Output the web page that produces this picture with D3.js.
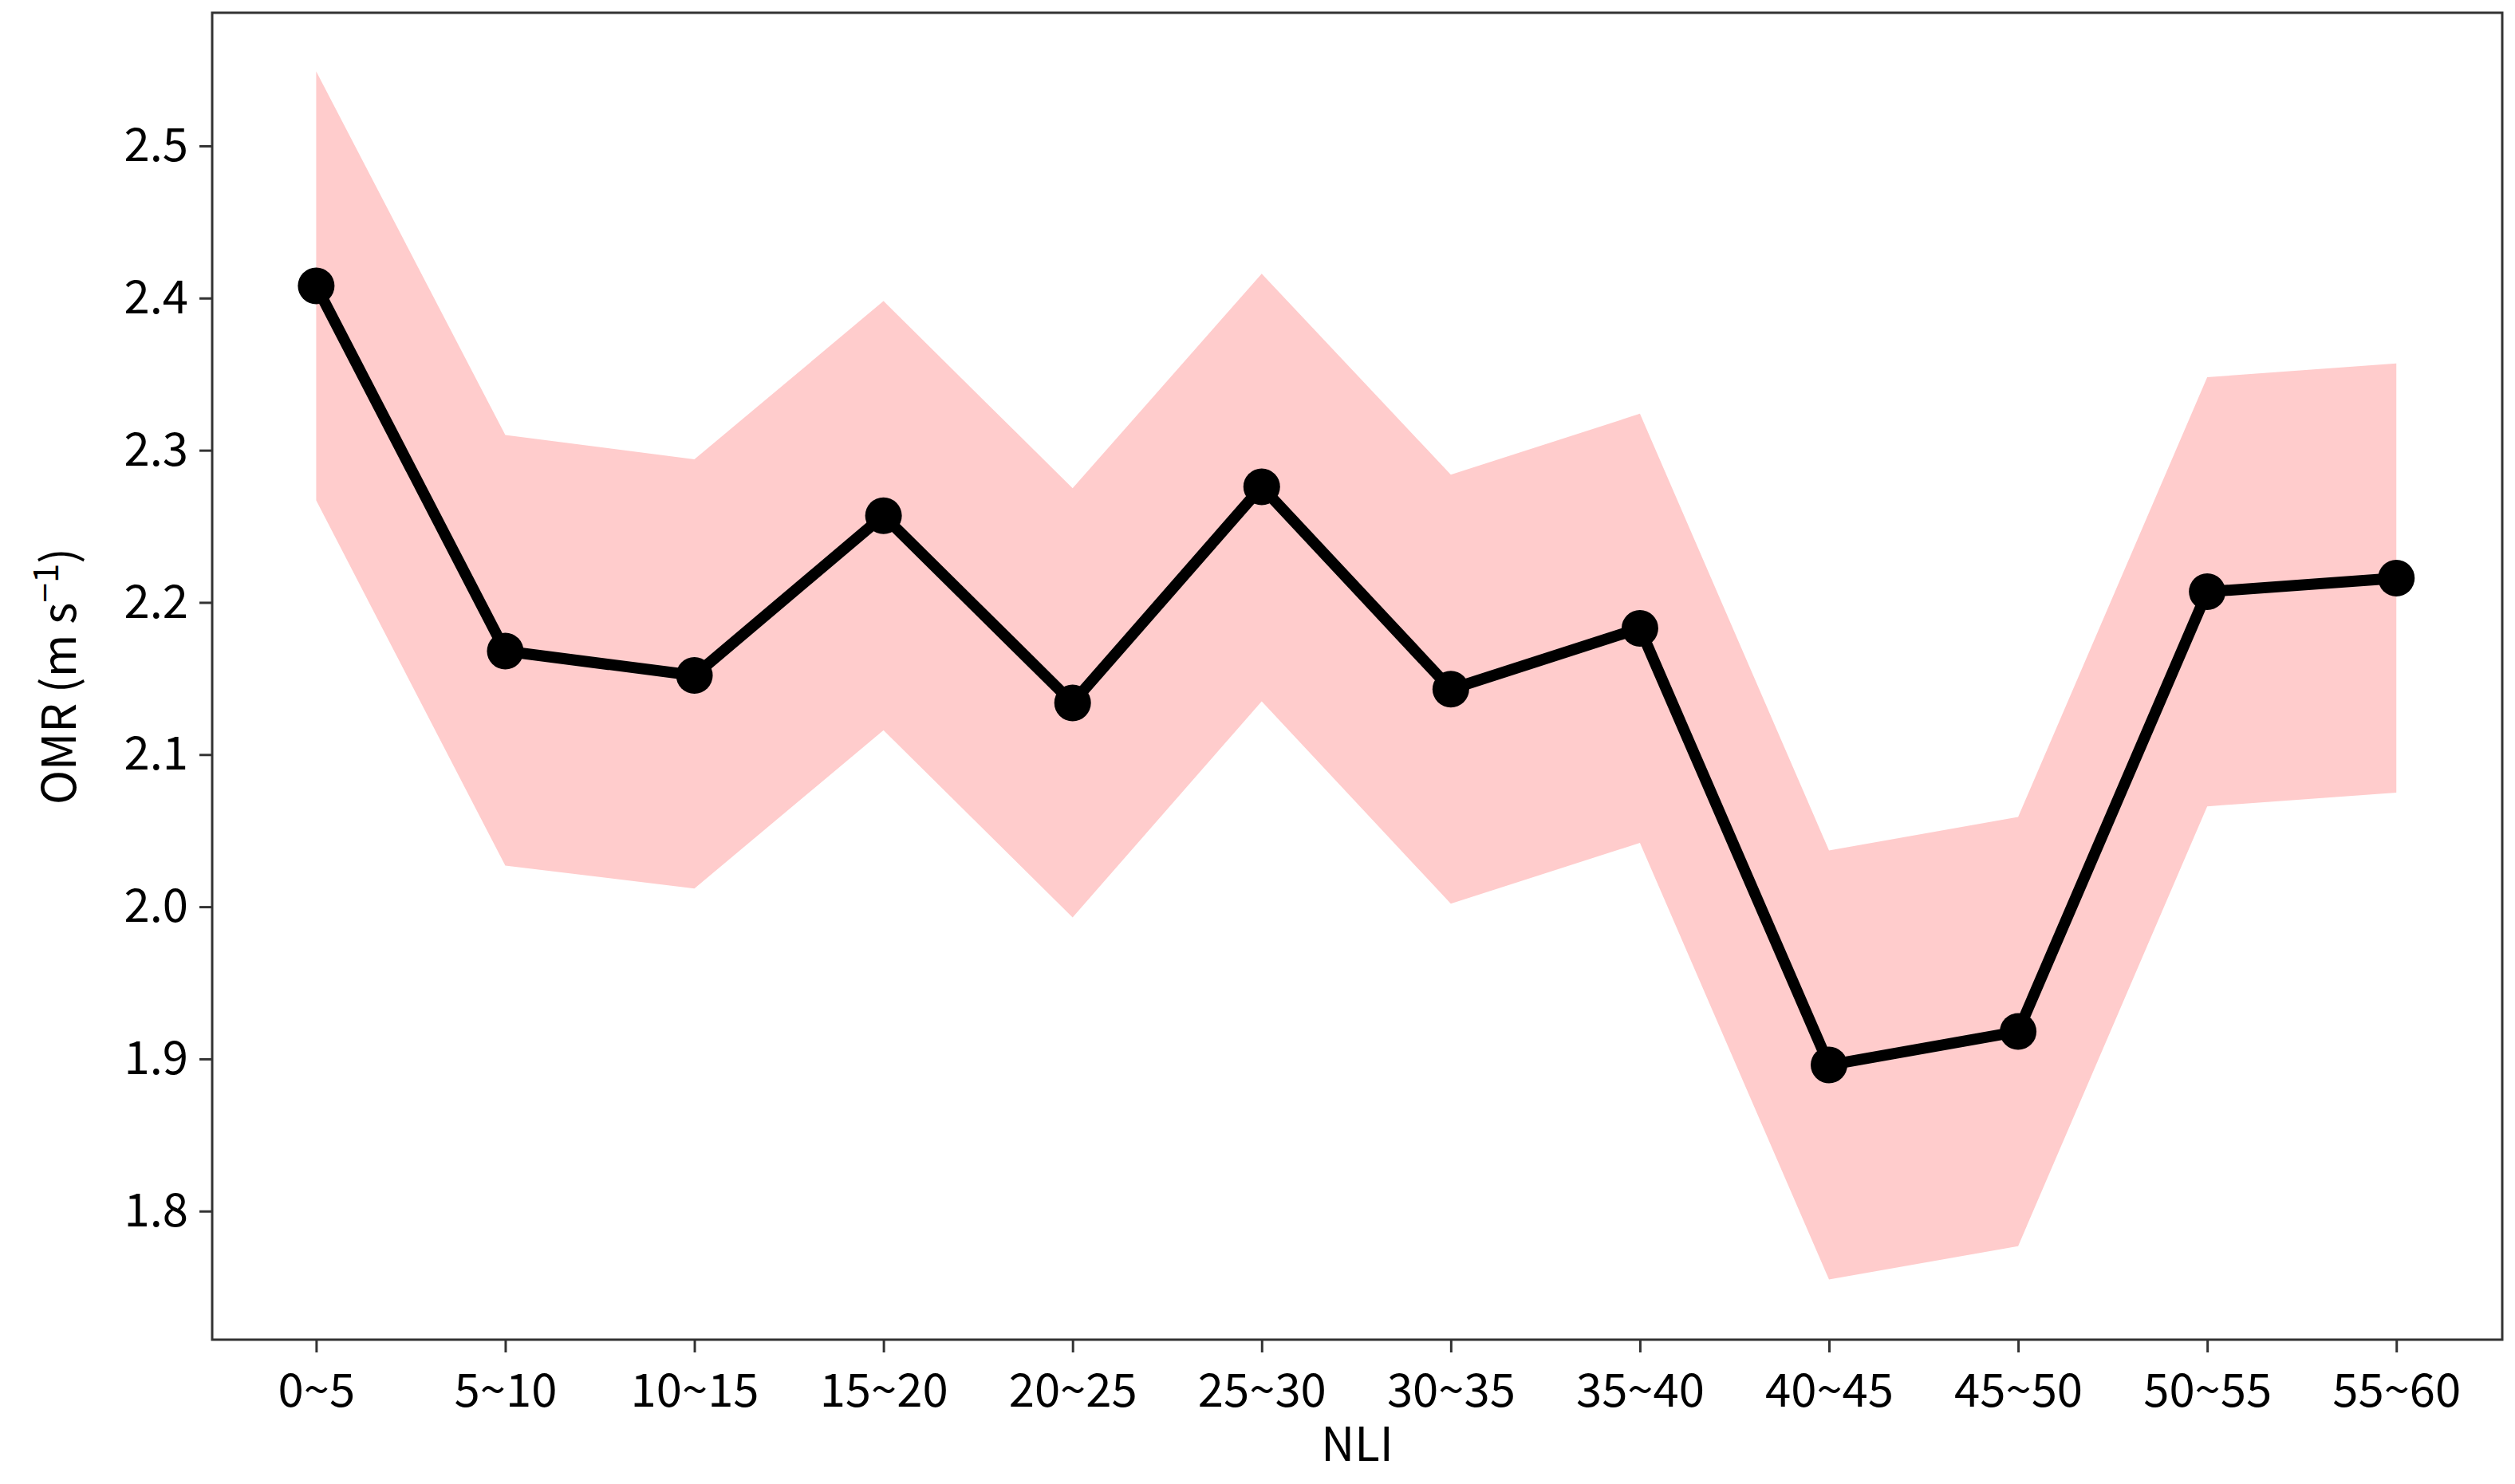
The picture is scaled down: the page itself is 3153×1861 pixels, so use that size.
<!DOCTYPE html>
<html><head><meta charset="utf-8">
<script src="https://cdn.jsdelivr.net/npm/d3@7"></script>
<style>body{margin:0;background:#fff}</style></head>
<body><svg id="c" width="3153" height="1861"></svg>
<script>
const categories = ["0~5","5~10","10~15","15~20","20~25","25~30","30~35","35~40","40~45","45~50","50~55","55~60"];
const meanValues = [2.408,2.168,2.152,2.257,2.134,2.276,2.143,2.183,1.896,1.918,2.207,2.216];
const upperValues = [2.549,2.310,2.294,2.398,2.275,2.416,2.284,2.324,2.037,2.059,2.348,2.357];
const lowerValues = [2.267,2.027,2.012,2.116,1.993,2.135,2.002,2.042,1.755,1.777,2.066,2.075];
const yTicks = [1.8,1.9,2.0,2.1,2.2,2.3,2.4,2.5];

const svg = d3.select("#c");
const L=266,R=3137,T=16,B=1680;
const font = "'Noto Sans CJK SC', sans-serif";
const x = d3.scaleLinear().domain([-0.55,11.56]).range([L,R]);
const y = d3.scaleLinear().domain([1.7155,2.5875]).range([B,T]);
const idx = categories.map((c,i)=>i);

svg.append("path").datum(idx)
  .attr("d", d3.area().x(i=>x(i)).y0(i=>y(lowerValues[i])).y1(i=>y(upperValues[i])))
  .attr("fill","#ffcccc");
svg.append("path").datum(idx)
  .attr("d", d3.line().x(i=>x(i)).y(i=>y(meanValues[i])))
  .attr("fill","none").attr("stroke","#000").attr("stroke-width",14).attr("stroke-linejoin","round");
svg.selectAll("circle.m").data(idx).join("circle")
  .attr("cx",i=>x(i)).attr("cy",i=>y(meanValues[i])).attr("r",23).attr("fill","#000");

svg.append("rect").attr("x",L).attr("y",T).attr("width",R-L).attr("height",B-T)
  .attr("fill","none").attr("stroke","#333").attr("stroke-width",3);

const xa = svg.append("g").attr("transform",`translate(0,${B})`)
  .call(d3.axisBottom(x).tickValues(idx).tickFormat(i=>categories[i]).tickSize(16).tickPadding(10));
const ya = svg.append("g").attr("transform",`translate(${L},0)`)
  .call(d3.axisLeft(y).tickValues(yTicks).tickFormat(d3.format(".1f")).tickSize(16).tickPadding(14));
[xa,ya].forEach(a=>{
  a.select(".domain").remove();
  a.selectAll(".tick line").attr("stroke","#333").attr("stroke-width",3);
  a.selectAll("text").attr("font-family",font).attr("font-size",58).attr("fill","#000");
});
xa.selectAll("text").attr("dy","1.0em");

svg.append("text").attr("x",(L+R)/2).attr("y",1832).attr("text-anchor","middle")
  .attr("font-family",font).attr("font-size",58).text("NLI");
const yl = svg.append("text").attr("transform",`translate(95,${(T+B)/2}) rotate(-90)`)
  .attr("text-anchor","middle").attr("font-family",font).attr("font-size",58);
yl.append("tspan").text("OMR (m s");
yl.append("tspan").attr("dy",-22).attr("font-size",44).text("\u22121");
yl.append("tspan").attr("dy",22).text(")");
</script></body></html>
